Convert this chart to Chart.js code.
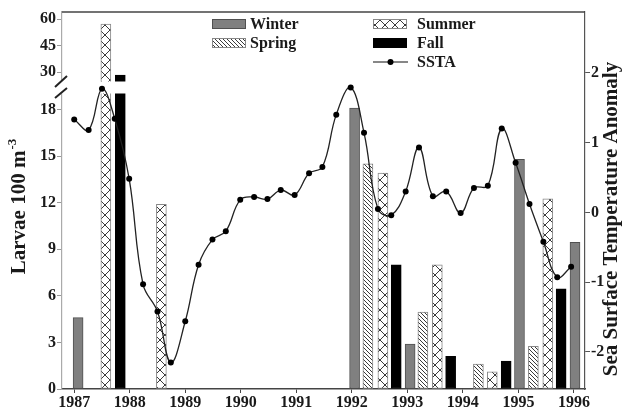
<!DOCTYPE html>
<html lang="en">
<head>
    <meta charset="UTF-8">
    <title>Larvae and SSTA</title>
    <script src="https://cdn.jsdelivr.net/npm/chart.js"></script>
    <style>
        body {
            margin: 0;
            padding: 0;
            background: #fff;
        }
        .wrap {
            width: 625px;
            height: 410px;
            position: relative;
        }
    </style>
</head>
<body>
    <div class="wrap">
        <canvas id="chart"></canvas>
    </div>

    <script>
        // Sea surface temperature anomaly, quarterly
        const quarterYears = [1987.00, 1987.26, 1987.50, 1987.73, 1987.99, 1988.24, 1988.50, 1988.74,
            1989.00, 1989.24, 1989.49, 1989.73, 1989.99, 1990.24, 1990.48, 1990.72, 1990.97,
            1991.23, 1991.47, 1991.72, 1991.98, 1992.22, 1992.47, 1992.71, 1992.97, 1993.21,
            1993.46, 1993.70, 1993.96, 1994.20, 1994.45, 1994.70, 1994.95, 1995.20, 1995.45,
            1995.70, 1995.95];
        const sstaValues = [1.33, 1.18, 1.77, 1.34, 0.48, -1.03, -1.42, -2.15,
            -1.56, -0.75, -0.39, -0.27, 0.18, 0.22, 0.19, 0.32, 0.25,
            0.56, 0.65, 1.40, 1.79, 1.14, 0.05, -0.04, 0.30, 0.93,
            0.23, 0.30, -0.01, 0.35, 0.38, 1.20, 0.71, 0.12, -0.42,
            -0.93, -0.78];

        // Larvae per 100 m^3 by season
        const winterYears = [1987.07, 1992.05, 1993.05, 1995.02, 1996.02];
        const winterLarvae = [4.6, 18.1, 2.9, 14.8, 9.45];
        const springYears = [1992.29, 1993.28, 1994.28, 1995.27];
        const springLarvae = [14.5, 4.95, 1.6, 2.75];
        const summerYears = [1987.57, 1988.57, 1992.56, 1993.54, 1994.53, 1995.53];
        const summerLarvae = [57.2, 11.9, 13.9, 8.0, 1.1, 12.25];
        const fallYears = [1987.83, 1992.80, 1993.78, 1994.78, 1995.77];
        const fallLarvae = [28.3, 8.0, 2.1, 1.8, 6.45];

        // Tick labels
        const yearTicks = [1987, 1988, 1989, 1990, 1991, 1992, 1993, 1994, 1995, 1996];
        const larvaeTicks = [0, 3, 6, 9, 12, 15, 18, 30, 45, 60];
        const anomalyTicks = [-2, -1, 0, 1, 2];

        const FONT = "'Liberation Serif', 'Times New Roman', serif";
        const TEXT = '#1a1a1a';

        // y axis with a gap between 19 and 25
        class BrokenLinearScale extends Chart.LinearScale {
            _dec(value) {
                const b = this.options.brk;
                if (value <= b.lowMax) return (value - this.min) / (b.lowMax - this.min) * b.lowFrac;
                if (value >= b.highMin) {
                    return b.lowFrac + b.gapFrac + (value - b.highMin) / (this.max - b.highMin) * (1 - b.lowFrac - b.gapFrac);
                }
                return b.lowFrac + (value - b.lowMax) / (b.highMin - b.lowMax) * b.gapFrac;
            }
            getPixelForValue(value) {
                return this.getPixelForDecimal(this._dec(value));
            }
            getValueForPixel(pixel) {
                const b = this.options.brk;
                const d = this.getDecimalForPixel(pixel);
                if (d <= b.lowFrac) return this.min + d / b.lowFrac * (b.lowMax - this.min);
                if (d >= b.lowFrac + b.gapFrac) {
                    return b.highMin + (d - b.lowFrac - b.gapFrac) / (1 - b.lowFrac - b.gapFrac) * (this.max - b.highMin);
                }
                return b.lowMax + (d - b.lowFrac) / b.gapFrac * (b.highMin - b.lowMax);
            }
        }
        BrokenLinearScale.id = 'brokenLinear';
        BrokenLinearScale.defaults = {};
        Chart.register(BrokenLinearScale);

        // fill patterns
        function hatchPattern() {
            const c = document.createElement('canvas');
            c.width = 4; c.height = 4;
            const g = c.getContext('2d');
            g.fillStyle = '#fff';
            g.fillRect(0, 0, 4, 4);
            g.strokeStyle = '#3a3a3a';
            g.lineWidth = 1;
            g.beginPath();
            g.moveTo(-1, -1); g.lineTo(5, 5);
            g.moveTo(-1, 3); g.lineTo(1, 5);
            g.moveTo(3, -1); g.lineTo(5, 1);
            g.stroke();
            return g.createPattern(c, 'repeat');
        }
        function crossPattern() {
            const c = document.createElement('canvas');
            c.width = 10; c.height = 10;
            const g = c.getContext('2d');
            g.fillStyle = '#fff';
            g.fillRect(0, 0, 10, 10);
            g.strokeStyle = '#3a3a3a';
            g.lineWidth = 1;
            g.beginPath();
            g.moveTo(0, 0); g.lineTo(10, 10);
            g.moveTo(10, 0); g.lineTo(0, 10);
            g.stroke();
            return g.createPattern(c, 'repeat');
        }
        const springFill = hatchPattern();
        const summerFill = crossPattern();

        const toPoints = (xs, ys) => xs.map((x, i) => ({ x: x, y: ys[i] }));

        const barBase = {
            type: 'bar',
            yAxisID: 'y',
            xAxisID: 'x',
            grouped: false,
            barThickness: 10,
            borderWidth: 1,
            borderSkipped: false,
            order: 1
        };

        const decor = {
            id: 'decor',
            beforeDatasetDraw(chart, args) {
                if (args.meta.type !== 'line') return;
                const { ctx, chartArea, scales } = chart;
                const b = scales.y.options.brk;
                const t = scales.y.getPixelForValue(b.highMin);
                const bt = scales.y.getPixelForValue(b.lowMax);
                ctx.save();
                ctx.fillStyle = '#fff';
                ctx.fillRect(chartArea.left - 3, t + 0.5, chartArea.right - chartArea.left + 2, bt - t - 1);
                ctx.restore();
            },
            afterDraw(chart) {
                const { ctx, chartArea, scales } = chart;
                const b = scales.y.options.brk;
                const t = scales.y.getPixelForValue(b.highMin);
                const bt = scales.y.getPixelForValue(b.lowMax);
                const L = chartArea.left;
                ctx.save();

                // top frame line
                ctx.strokeStyle = '#444';
                ctx.lineWidth = 1.5;
                ctx.beginPath();
                ctx.moveTo(L, chartArea.top);
                ctx.lineTo(chartArea.right, chartArea.top);
                ctx.stroke();

                // axis break marks
                ctx.strokeStyle = '#222';
                ctx.lineWidth = 2;
                ctx.beginPath();
                ctx.moveTo(L - 7, t + 6); ctx.lineTo(L + 5, t - 5);
                ctx.moveTo(L - 7, bt + 4); ctx.lineTo(L + 5, bt - 6);
                ctx.stroke();

                // axis titles
                ctx.fillStyle = TEXT;
                ctx.textBaseline = 'middle';
                ctx.font = 'bold 21px ' + FONT;
                const main = 'Larvae 100 m';
                ctx.save();
                ctx.translate(20, 207);
                ctx.rotate(-Math.PI / 2);
                const wMain = ctx.measureText(main).width;
                ctx.font = 'bold 13px ' + FONT;
                const wSup = ctx.measureText('-3').width;
                const start = -(wMain + wSup) / 2;
                ctx.font = 'bold 21px ' + FONT;
                ctx.textAlign = 'left';
                ctx.fillText(main, start, 0);
                ctx.font = 'bold 13px ' + FONT;
                ctx.fillText('-3', start + wMain + 1, -7);
                ctx.restore();

                ctx.save();
                ctx.translate(612, 219);
                ctx.rotate(-Math.PI / 2);
                ctx.font = 'bold 21px ' + FONT;
                ctx.textAlign = 'center';
                ctx.fillText('Sea Surface Temperature Anomaly', 0, 0);
                ctx.restore();

                // legend
                ctx.font = 'bold 16px ' + FONT;
                ctx.textAlign = 'left';
                ctx.lineWidth = 1;
                const swatch = (x, y, fill, stroke) => {
                    ctx.fillStyle = fill;
                    ctx.fillRect(x, y, 34, 10);
                    ctx.strokeStyle = stroke;
                    ctx.strokeRect(x + 0.5, y + 0.5, 33, 9);
                };
                swatch(212, 19, '#808080', '#505050');
                swatch(212, 38, springFill, '#888');
                swatch(373, 19, summerFill, '#888');
                swatch(373, 38, '#000', '#000');
                ctx.strokeStyle = '#111';
                ctx.lineWidth = 1.2;
                ctx.beginPath();
                ctx.moveTo(373, 62); ctx.lineTo(408, 62);
                ctx.stroke();
                ctx.fillStyle = '#000';
                ctx.beginPath();
                ctx.arc(390.5, 62, 3, 0, Math.PI * 2);
                ctx.fill();
                ctx.fillStyle = TEXT;
                ctx.fillText('Winter', 250, 25);
                ctx.fillText('Spring', 250, 44);
                ctx.fillText('Summer', 417, 25);
                ctx.fillText('Fall', 417, 44);
                ctx.fillText('SSTA', 417, 63);
                ctx.restore();
            }
        };

        const ctx = document.getElementById('chart').getContext('2d');
        new Chart(ctx, {
            data: {
                datasets: [
                    {
                        type: 'line',
                        label: 'SSTA',
                        yAxisID: 'y2',
                        xAxisID: 'x',
                        data: toPoints(quarterYears, sstaValues),
                        borderColor: '#222',
                        borderWidth: 1.3,
                        tension: 0.4,
                        pointRadius: 3,
                        pointBackgroundColor: '#000',
                        pointBorderColor: '#000',
                        pointBorderWidth: 0,
                        fill: false,
                        order: 0
                    },
                    Object.assign({}, barBase, {
                        label: 'Winter',
                        data: toPoints(winterYears, winterLarvae),
                        backgroundColor: '#808080',
                        borderColor: '#505050'
                    }),
                    Object.assign({}, barBase, {
                        label: 'Spring',
                        data: toPoints(springYears, springLarvae),
                        backgroundColor: springFill,
                        borderColor: '#888'
                    }),
                    Object.assign({}, barBase, {
                        label: 'Summer',
                        data: toPoints(summerYears, summerLarvae),
                        backgroundColor: summerFill,
                        borderColor: '#888'
                    }),
                    Object.assign({}, barBase, {
                        label: 'Fall',
                        data: toPoints(fallYears, fallLarvae),
                        backgroundColor: '#000',
                        borderColor: '#000'
                    })
                ]
            },
            options: {
                responsive: true,
                maintainAspectRatio: false,
                animation: false,
                layout: { padding: { top: 12, left: 0, right: 0, bottom: 0 } },
                plugins: {
                    legend: { display: false },
                    tooltip: { enabled: false }
                },
                scales: {
                    x: {
                        type: 'linear',
                        position: 'bottom',
                        offset: false,
                        min: 1986.78,
                        max: 1996.2,
                        afterBuildTicks: s => { s.ticks = yearTicks.map(v => ({ value: v })); },
                        afterFit: s => { s.height = 21; },
                        ticks: {
                            callback: v => String(v),
                            color: TEXT,
                            font: { family: FONT, size: 16, weight: 'bold' },
                            padding: 0,
                            maxRotation: 0
                        },
                        grid: { drawOnChartArea: false, offset: false, tickLength: 4, color: '#444', tickWidth: 1 },
                        border: { color: '#444', width: 1.5 }
                    },
                    y: {
                        type: 'brokenLinear',
                        position: 'left',
                        min: 0,
                        max: 64,
                        bounds: 'data',
                        brk: { lowMax: 19, highMin: 25, lowFrac: 0.7825, gapFrac: 0.0345 },
                        afterBuildTicks: s => { s.ticks = larvaeTicks.map(v => ({ value: v })); },
                        afterFit: s => { s.width = 62; },
                        ticks: {
                            callback: v => String(v),
                            color: TEXT,
                            font: { family: FONT, size: 16, weight: 'bold' },
                            padding: 1
                        },
                        grid: { drawOnChartArea: false, tickLength: 5, color: '#999' },
                        border: { color: '#aaa', width: 1.2 }
                    },
                    y2: {
                        type: 'linear',
                        position: 'right',
                        min: -2.53,
                        max: 2.87,
                        bounds: 'data',
                        afterBuildTicks: s => { s.ticks = anomalyTicks.map(v => ({ value: v })); },
                        afterFit: s => { s.width = 40; },
                        ticks: {
                            callback: v => String(v),
                            color: TEXT,
                            font: { family: FONT, size: 16, weight: 'bold' },
                            padding: 1
                        },
                        grid: { drawOnChartArea: false, tickLength: 5, color: '#555' },
                        border: { color: '#555', width: 1.2 }
                    }
                }
            },
            plugins: [decor]
        });
    </script>
</body>
</html>
